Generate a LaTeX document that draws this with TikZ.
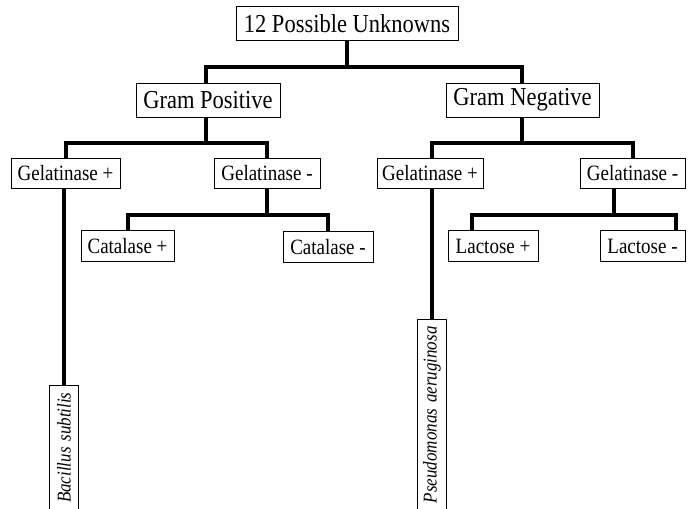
\documentclass[tikz,border=0pt]{standalone}
\usepackage{graphicx}
\usepackage{fontspec}
\setmainfont{Liberation Serif}
\newcommand{\tallt}[1]{\scalebox{1}[1.15]{#1}}
\begin{document}
\begin{tikzpicture}[x=1pt,y=-1pt,
  box/.style={draw, line width=0.9pt, inner sep=0pt, fill=white},
  big/.style={box, font=\fontsize{22.5}{26}\selectfont, minimum height=34pt},
  small/.style={box, font=\fontsize{19}{22}\selectfont, minimum height=30.5pt},
  leaf/.style={draw, line width=0.9pt, fill=white, rotate=90, anchor=east,
    font=\fontsize{17}{20}\selectfont\itshape, minimum height=28.5pt,
    inner xsep=7pt, inner ysep=0pt, align=right},
  conn/.style={line width=4pt}]
\useasboundingbox (0,0) rectangle (692,508);
\fill[white] (0,0) rectangle (692,508);
\clip (0,0) rectangle (692,508);

% level 0 / 1
\node[big, minimum width=222pt] (root) at (347,23.5) {\tallt{12 Possible Unknowns}};
\node[big, minimum width=144pt] (gp) at (208,100) {\tallt{Gram Positive}};
\node[big, minimum width=153pt] (gn) at (522.5,100) {\tallt{Gram Negative}};

% level 2
\node[small, minimum width=109pt] (gelpL) at (65.5,173.5) {\tallt{Gelatinase +}};
\node[small, minimum width=106pt] (gelmL) at (267,173.5) {\tallt{Gelatinase -}};
\node[small, minimum width=106pt] (gelpR) at (430,173.5) {\tallt{Gelatinase +}};
\node[small, minimum width=105pt] (gelmR) at (632.5,173.5) {\tallt{Gelatinase -}};

% level 3
\node[small, minimum width=93pt] (catp) at (127.5,246) {\tallt{Catalase +}};
\node[small, minimum width=90pt] (catm) at (328,247) {\tallt{Catalase -}};
\node[small, minimum width=90pt] (lacp) at (493,246) {\tallt{Lactose +}};
\node[small, minimum width=85pt] (lacm) at (642.5,246) {\tallt{Lactose -}};

% leaves
\node[leaf, text width=160pt] (bac) at (64,385) {\tallt{Bacillus subtilis}};
\node[leaf, text width=210pt] (pse) at (432,319) {\tallt{Pseudomonas aeruginosa}};

% bus coordinates and taps
\coordinate (b1) at (347,67);
\coordinate (b2l) at (206,143);
\coordinate (b2r) at (522,143);
\coordinate (b3l) at (267,215);
\coordinate (b3r) at (614,215);
\coordinate (tgelmR) at (614,190);
\coordinate (tlacp) at (472,231);
\coordinate (tlacm) at (676,231);
\coordinate (tgp) at (206,83);
\coordinate (tgn) at (522,83);
\coordinate (tgpb) at (206,117);
\coordinate (tgnb) at (522,117);

% connectors
\draw[conn] (root.south) -- (b1);
\draw[conn] (gp.north -| tgp) |- (b1) -| (gn.north -| tgn);

\draw[conn] (gp.south -| tgpb) -- (b2l);
\draw[conn] (gelpL.north) |- (b2l) -| (gelmL.north);

\draw[conn] (gn.south -| tgnb) -- (b2r);
\draw[conn] (gelpR.north -| pse.east) |- (b2r) -| (gelmR.north);

\draw[conn] (gelmL.south) -- (b3l);
\draw[conn] (catp.north) |- (b3l) -| (catm.north);

\draw[conn] (gelmR.south -| tgelmR) -- (b3r);
\draw[conn] (lacp.north -| tlacp) |- (b3r) -| (lacm.north -| tlacm);

\draw[conn] (gelpL.south -| bac.east) -- (bac.east);
\draw[conn] (gelpR.south -| pse.east) -- (pse.east);
\end{tikzpicture}
\end{document}
